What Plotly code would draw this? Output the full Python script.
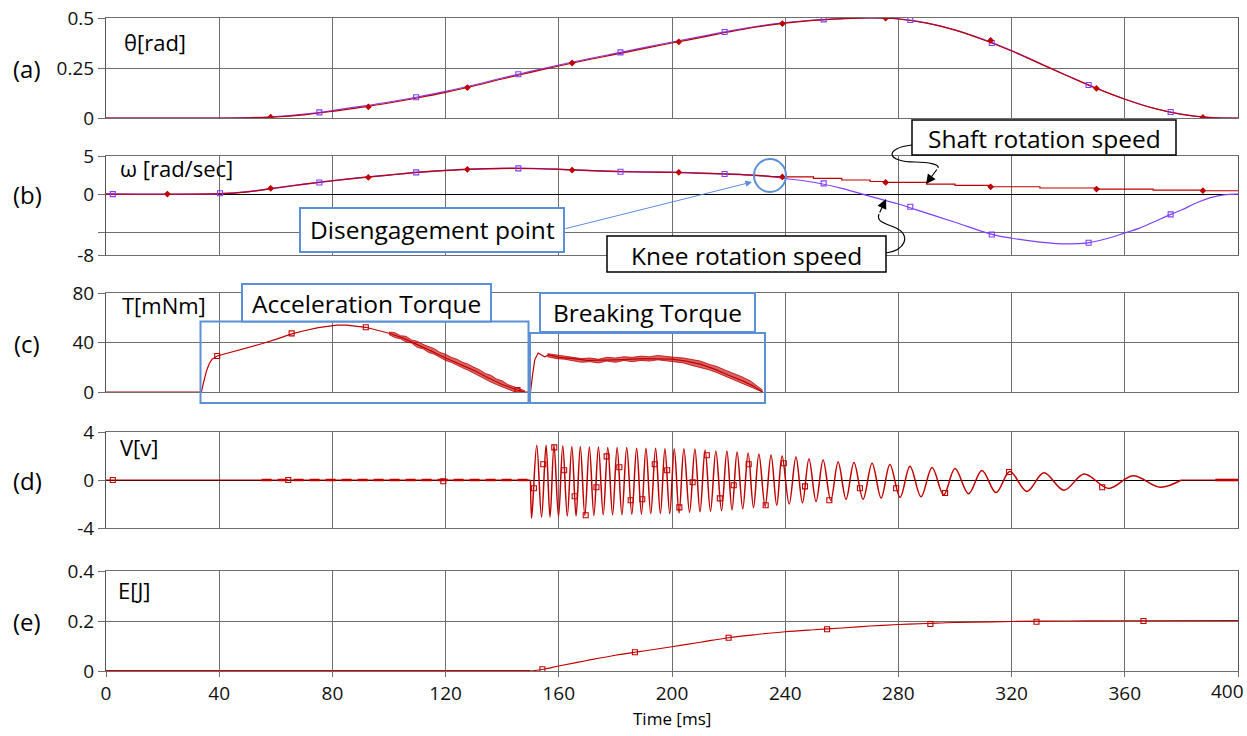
import plotly.graph_objects as go

# ---------------- data ----------------
time_ticks = [0, 40, 80, 120, 160, 200, 240, 280, 320, 360, 400]
time_ticktext = ["0", "40", "80", "120", "160", "200", "240", "280", "320", "360", ""]
last_time_label = "400"

# (a) rotation angle
theta_t = [0, 40, 50, 60, 70, 80, 90, 100, 110, 120, 130, 140, 150, 160, 170, 180, 190, 200, 210, 220,
           230, 240, 250, 260, 270, 280, 290, 300, 310, 320, 330, 340, 350, 360, 370, 380, 390, 400]
theta_shaft = [0, 0, 0.001, 0.005, 0.016, 0.033, 0.053, 0.075, 0.1, 0.128, 0.16, 0.195, 0.228, 0.26, 0.29,
               0.318, 0.347, 0.375, 0.402, 0.43, 0.455, 0.474, 0.488, 0.496, 0.5, 0.495, 0.474, 0.439, 0.391,
               0.335, 0.272, 0.209, 0.148, 0.094, 0.049, 0.018, 0.002, 0]
theta_knee = [0, 0, 0.002, 0.007, 0.019, 0.037, 0.058, 0.08, 0.105, 0.133, 0.165, 0.2, 0.233, 0.265, 0.295,
              0.323, 0.352, 0.38, 0.407, 0.434, 0.458, 0.477, 0.49, 0.497, 0.5, 0.496, 0.476, 0.441, 0.393,
              0.337, 0.274, 0.21, 0.149, 0.095, 0.05, 0.019, 0.003, 0]
theta_mk_red_t = [58.2, 92.7, 127.7, 164.7, 202.4, 239.0, 275.5, 312.6, 350.0, 387.6]
theta_mk_red_v = [0.004, 0.056, 0.152, 0.275, 0.381, 0.472, 0.499, 0.388, 0.148, 0.003]
theta_mk_blue_t = [75.4, 109.6, 145.7, 181.8, 218.6, 253.6, 284.2, 313.0, 347.2, 376.2]
theta_mk_blue_v = [0.028, 0.104, 0.219, 0.328, 0.43, 0.493, 0.49, 0.375, 0.165, 0.03]

# (b) rotation speed
omega_t = [0, 40, 50, 60, 70, 80, 90, 100, 110, 120, 130, 140, 150, 160, 170, 180, 190, 200, 210, 220, 230, 235]
omega_common = [0, 0.05, 0.3, 0.8, 1.3, 1.75, 2.15, 2.5, 2.85, 3.1, 3.28, 3.37, 3.36, 3.25, 3.1, 2.97, 2.9,
                2.85, 2.75, 2.62, 2.45, 2.3]
omega_shaft_t = [235, 240, 250, 260, 270, 275.5, 290, 300, 312.6, 330, 350, 370, 387.6, 400]
omega_shaft_v = [2.3, 2.25, 2.05, 1.85, 1.65, 1.53, 1.3, 1.15, 0.96, 0.8, 0.66, 0.53, 0.44, 0.4]
omega_knee_t = [235, 240, 250, 260, 270, 280, 290, 300, 313, 320, 330, 340, 347, 355, 360, 365, 370, 376,
                380, 385, 390, 395, 400]
omega_knee_v = [2.3, 2.05, 1.55, 0.75, -0.3, -1.3, -2.5, -3.7, -5.3, -5.8, -6.3, -6.55, -6.4, -5.7, -5.1,
                -4.5, -3.7, -2.7, -2.1, -1.2, -0.5, -0.1, 0]
omega_mk_red_t = [21.7, 58.2, 92.7, 127.7, 164.7, 202.4, 239.0, 275.5, 312.6, 350.0, 387.6]
omega_mk_red_v = [0, 0.75, 2.19, 3.24, 3.15, 2.85, 2.25, 1.53, 0.96, 0.66, 0.44]
omega_mk_blue_t = [2.4, 40.3, 75.4, 109.6, 145.7, 181.8, 218.6, 253.6, 284.2, 313.0, 347.2, 376.2]
omega_mk_blue_v = [0, 0.1, 1.53, 2.85, 3.37, 2.93, 2.63, 1.4, -1.67, -5.3, -6.4, -2.67]

# (c) torque
torque_acc_t = [0, 33.7, 34.5, 35.5, 36.5, 37.5, 39.3, 45, 50, 55, 60, 65.6, 70, 75, 81.6, 85, 91.8, 97, 100,
                105, 110, 115, 120, 125, 130, 135, 140, 145, 148]
torque_acc_v = [0, 0, 8, 17, 23, 26.5, 29.1, 32.5, 35.5, 39, 42.5, 47, 49.5, 52, 54, 54, 52.3, 49, 47.5,
                43.5, 38.5, 33, 27.5, 22.5, 17.5, 11.5, 6, 1.8, 0]
noise_acc_t = [100, 102, 104, 106, 108, 110, 112, 114, 116, 118, 120, 122, 124, 126, 128, 130, 132, 134, 136,
               138, 140, 142, 144, 146, 148]
noise_acc_hi = [48.5, 48, 45.5, 45, 42, 41, 38.5, 36.5, 35, 32, 30.5, 28, 26.5, 24, 22.5, 20, 18, 15, 13.5,
                10.5, 9, 6, 4.5, 2.5, 1]
noise_acc_lo = [46.5, 44, 43, 40.5, 39.5, 36, 35, 32, 30.5, 28, 25.5, 24, 21.5, 19.5, 17.5, 15, 13, 10.5,
                8, 6, 4, 2, 0.5, 0, 0]
torque_brk_t = [148, 150, 150.8, 151.5, 152.7, 154, 155, 156.5, 160, 165, 170, 180, 190, 200, 205, 210,
                215, 220, 225, 229, 232]
torque_brk_v = [0, 0, 15, 26, 31.5, 30, 28.5, 30, 28, 27, 25.5, 26, 27, 26.5, 25, 22.5, 18.5, 13.5, 9, 4.5, 0]
noise_brk_t = [156, 159, 162, 165, 168, 171, 174, 177, 180, 183, 186, 189, 192, 195, 198, 201, 204, 207,
               210, 213, 216, 219, 222, 225, 228, 230, 232]
noise_brk_hi = [31, 30, 29.5, 28.5, 27, 27.5, 26.5, 28, 27.5, 28.5, 28, 29, 28.5, 29.5, 28.5, 28, 27.5, 26,
                25, 22.5, 20.5, 17.5, 15, 12, 8.5, 5, 1.5]
noise_brk_lo = [28.5, 27, 26.5, 25.5, 24, 24.5, 23.5, 25, 24, 25.5, 24.5, 25.5, 25, 26, 25, 24, 23.5, 21.5,
                20, 18, 15.5, 12.5, 9.5, 6.5, 3.5, 1.5, 0]
torque_mk_t = [39.3, 65.6, 91.8, 145.4]
torque_mk_v = [29.1, 47.4, 52.3, 1.5]

# (d) generated voltage: peaks and troughs of the oscillation
v_peak_t = [152.2, 155.5, 158.3, 161.4, 164.6, 167.6, 170.8, 174.0, 177.3, 180.6, 184.0, 187.5, 190.8, 194.2,
            197.5, 200.8, 204.2, 208.1, 211.7, 215.5, 219.4, 223.0, 226.9, 230.7, 235.0, 238.9, 243.8, 248.4,
            253.4, 258.7, 264.3, 270.7, 277.0, 284.1, 291.9, 300.0, 309.5, 319.4, 331.4, 345.6, 362.9]
v_peak_v = [2.9, 2.9, 2.9, 2.85, 2.8, 2.8, 2.75, 2.75, 2.7, 2.7, 2.7, 2.65, 2.65, 2.65, 2.6, 2.6, 2.6, 2.58,
            2.5, 2.42, 2.42, 2.33, 2.25, 2.17, 2.08, 2.0, 1.92, 1.75, 1.67, 1.5, 1.45, 1.4, 1.3, 1.15, 1.05,
            0.95, 0.8, 0.7, 0.6, 0.5, 0.35]
v_trough_t = [150.4, 153.9, 156.9, 159.9, 163.0, 166.1, 169.2, 172.4, 175.7, 179.0, 182.3, 185.8, 189.2,
              192.5, 195.9, 199.2, 202.5, 206.2, 209.9, 213.6, 217.5, 221.2, 225.0, 228.8, 232.9, 237.0,
              241.4, 246.1, 250.9, 256.1, 261.5, 267.5, 273.9, 280.6, 288.0, 296.0, 304.8, 314.5, 325.4,
              338.5, 354.3, 372.5]
v_trough_v = [-3.2, -3.1, -3.1, -3.05, -3.0, -3.0, -2.95, -2.95, -2.9, -2.9, -2.9, -2.85, -2.85, -2.8, -2.8,
              -2.8, -2.75, -2.7, -2.65, -2.6, -2.55, -2.5, -2.4, -2.3, -2.2, -2.1, -2.0, -1.9, -1.8, -1.7,
              -1.6, -1.6, -1.5, -1.45, -1.4, -1.25, -1.15, -1.05, -0.95, -0.85, -0.7, -0.6]
v_pre_t = [0, 150.0]
v_post_t = [380.0, 400.0]
v_ripple_t = [[55, 150], [392, 400]]
v_mk_t = [2.4, 64.4, 119.2, 151.2, 154.5, 158.4, 161.9, 165.6, 169.5, 173.3, 176.9, 181.4, 185.4, 189.5,
          193.9, 198.3, 202.6, 207.3, 212.3, 216.9, 221.8, 227.1, 233.1, 239.5, 247.0, 255.6, 266.4, 279.2,
          296.5, 319.1, 352.0]
v_mk_v = [0, 0, -0.1, -0.69, 1.31, 2.72, 0.81, -1.36, -2.94, -0.61, 1.97, 1.06, -1.69, -1.61, 1.31, 0.81,
          -2.28, -0.19, 2.06, -1.53, -0.44, 1.31, -2.11, 1.39, -0.53, -1.69, -0.69, -0.69, -1.08, 0.67, -0.61]

# (e) harvested energy
energy_t = [0, 150, 155, 160, 170, 180, 186.9, 190, 200, 210, 220, 230, 240, 250, 260, 270, 280, 290, 300,
            320, 340, 360, 400]
energy_v = [0, 0, 0.008, 0.02, 0.042, 0.063, 0.075, 0.08, 0.097, 0.115, 0.133, 0.146, 0.157, 0.165, 0.172,
            0.18, 0.186, 0.19, 0.194, 0.198, 0.2, 0.201, 0.202]
energy_mk_t = [154.2, 186.9, 220.0, 254.8, 291.3, 328.8, 366.6]
energy_mk_v = [0.007, 0.075, 0.133, 0.167, 0.188, 0.197, 0.2]

# axis ticks per panel
y_ranges = {1: [0, 0.5], 2: [-8, 5], 3: [0, 80], 4: [-4, 4], 5: [0, 0.4]}
y_tickvals = {1: [0, 0.25, 0.5], 2: [-8, -5, 0, 5], 3: [0, 40, 80], 4: [-4, 0, 4], 5: [0, 0.2, 0.4]}
y_ticktext = {1: ["0", "0.25", "0.5"], 2: ["-8", "", "0", "5"], 3: ["0", "40", "80"], 4: ["-4", "0", "4"],
              5: ["0", "0.2", "0.4"]}
panel_tags = ["(a)", "(b)", "(c)", "(d)", "(e)"]
panel_units = ["θ[rad]", "ω [rad/sec]", "T[mNm]", "V[v]", "E[J]"]

# ---------------- layout helpers ----------------
W, H = 1247, 736
L, R, T, B = 106, 9, 18, 65
PW, PH = W - L - R, H - T - B
FONT = "Open Sans"
RED = "#C00000"
BLUE = "#7F3FFF"
LBLUE = "#5B8FD6"
GRID = "#6e6e6e"


def px(x):
    return (x - L) / PW


def py(y):
    return (H - B - y) / PH


panel_px = {1: (118, 18), 2: (255, 156), 3: (392, 293), 4: (528, 432), 5: (671, 571)}

fig = go.Figure()


def ax(i):
    return ("x" if i == 1 else f"x{i}"), ("y" if i == 1 else f"y{i}")


def line(i, xs, ys, color, width=1.2, shape="spline", dash=None, **kw):
    xa, ya = ax(i)
    fig.add_trace(go.Scatter(x=xs, y=ys, xaxis=xa, yaxis=ya, mode="lines",
                             line=dict(color=color, width=width, shape=shape, dash=dash),
                             hoverinfo="skip", **kw))


def marks(i, xs, ys, color, symbol, size=6, filled=False):
    xa, ya = ax(i)
    fig.add_trace(go.Scatter(x=xs, y=ys, xaxis=xa, yaxis=ya, mode="markers",
                             marker=dict(symbol=symbol, size=size, color=color if filled else "rgba(0,0,0,0)",
                                         line=dict(color=color, width=1.1)), hoverinfo="skip"))


# (a)
line(1, theta_t, theta_knee, BLUE)
line(1, theta_t, theta_shaft, RED)
marks(1, theta_mk_blue_t, theta_mk_blue_v, BLUE, "square", 5)
marks(1, theta_mk_red_t, theta_mk_red_v, RED, "diamond", 4, filled=True)

# (b)
line(2, omega_t, omega_common, BLUE, width=1.5)
line(2, omega_knee_t, omega_knee_v, BLUE)
line(2, omega_t, omega_common, RED)
line(2, omega_shaft_t, omega_shaft_v, RED, shape="hv")
marks(2, omega_mk_blue_t, omega_mk_blue_v, BLUE, "square", 5)
marks(2, omega_mk_red_t, omega_mk_red_v, RED, "diamond", 4, filled=True)

# (c)
line(3, torque_acc_t, torque_acc_v, RED, shape="linear")
line(3, torque_brk_t, torque_brk_v, RED, shape="linear")
line(3, noise_acc_t, noise_acc_lo, RED, width=0.8, shape="linear")
line(3, noise_acc_t, noise_acc_hi, RED, width=0.8, shape="linear", fill="tonexty",
     fillcolor="rgba(192,0,0,0.6)")
line(3, noise_brk_t, noise_brk_lo, RED, width=0.8, shape="linear")
line(3, noise_brk_t, noise_brk_hi, RED, width=0.8, shape="linear", fill="tonexty",
     fillcolor="rgba(192,0,0,0.6)")
marks(3, torque_mk_t, torque_mk_v, RED, "square", 5)

# (d)
osc = sorted(list(zip(v_peak_t, v_peak_v)) + list(zip(v_trough_t, v_trough_v)))
v_t = [v_pre_t[1]] + [p[0] for p in osc] + [v_post_t[0]]
v_v = [0] + [p[1] for p in osc] + [0]
line(4, v_pre_t, [0, 0], RED, width=1.1, shape="linear")
line(4, v_t, v_v, RED, width=1.5)
line(4, v_post_t, [0, 0], RED, width=1.1, shape="linear")
for seg in v_ripple_t:
    line(4, seg, [0, 0], RED, width=2.6, shape="linear", dash="10px,6px" if seg[0] < 100 else None)
marks(4, v_mk_t, v_mk_v, RED, "square", 5)

# (e)
line(5, energy_t[:2], energy_v[:2], RED, width=2.2, shape="linear")
line(5, energy_t[1:], energy_v[1:], RED, width=1.2)
marks(5, energy_mk_t, energy_mk_v, RED, "square", 5)

# axes
layout = dict(width=W, height=H, margin=dict(l=L, r=R, t=T, b=B, autoexpand=False), paper_bgcolor="white",
              plot_bgcolor="white", showlegend=False)
for i in range(1, 6):
    xa, ya = ax(i)
    xk = "xaxis" if i == 1 else f"xaxis{i}"
    yk = "yaxis" if i == 1 else f"yaxis{i}"
    bot, top = panel_px[i]
    layout[xk] = dict(domain=[0, 1], range=[0, 400], anchor=ya, tickvals=time_ticks, ticktext=time_ticktext,
                      automargin=False,
                      showticklabels=(i == 5), ticks="outside" if i == 5 else "", ticklen=5, tickcolor=GRID,
                      showgrid=True, gridcolor=GRID, gridwidth=1, zeroline=False,
                      showline=True, linecolor=GRID, linewidth=1, mirror=True, ticklabeloverflow="allow",
                      tickfont=dict(family=FONT, size=19, color="#111"))
    layout[yk] = dict(domain=[py(bot), py(top)], range=y_ranges[i], anchor=xa, tickvals=y_tickvals[i],
                      ticktext=y_ticktext[i], showgrid=True, gridcolor=GRID, gridwidth=1, automargin=False,
                      zeroline=(i in (2, 4)), zerolinecolor="#000", zerolinewidth=1,
                      showline=True, linecolor="#555", linewidth=1, mirror=True,
                      ticks="outside", ticklen=7, tickcolor=GRID, ticklabeloverflow="allow",
                      tickfont=dict(family=FONT, size=19, color="#111"))

ann = []
shapes = []


def text(xp, yp, s, size, xanchor="left", color="#000"):
    ann.append(dict(x=px(xp), y=py(yp), xref="paper", yref="paper", text=s, showarrow=False,
                    xanchor=xanchor, yanchor="middle", font=dict(family=FONT, size=size, color=color)))


def rect(x0, y0, x1, y1, color, fill="white", width=2):
    shapes.append(dict(type="rect", xref="paper", yref="paper", x0=px(x0), x1=px(x1), y0=py(y1), y1=py(y0),
                       line=dict(color=color, width=width), fillcolor=fill, layer="above"))


def path(cmds, color, width=1.2):
    s = ""
    for c, pts in cmds:
        s += c + " " + " ".join(f"{px(a):.5f},{py(b):.5f}" for a, b in pts) + " "
    shapes.append(dict(type="path", xref="paper", yref="paper", path=s.strip(),
                       line=dict(color=color, width=width), layer="above"))


def arrow(x0, y0, x1, y1, color, size=1.4, width=1.2):
    ann.append(dict(x=px(x1), y=py(y1), xref="paper", yref="paper", ax=x0 - x1, ay=y0 - y1,
                    axref="pixel", ayref="pixel", text="", showarrow=True, arrowhead=2, arrowsize=size,
                    arrowwidth=width, arrowcolor=color, standoff=0))


# panel tags and unit labels
tag_y = [68, 194, 343, 480, 621]
unit_pos = [(122, 42), (118, 168), (120, 305), (118, 447), (116, 590)]
for i in range(5):
    text(27, tag_y[i], panel_tags[i], 24, "center")
    text(unit_pos[i][0], unit_pos[i][1], panel_units[i], 22)
text(672, 718, "Time [ms]", 17, "center")
text(1246, 691, last_time_label, 19, "right", "#111")

# (b) call-outs
shapes.append(dict(type="circle", xref="paper", yref="paper", x0=px(754), x1=px(786), y0=py(192), y1=py(159),
                   line=dict(color=LBLUE, width=2), layer="above"))
arrow(564, 229, 752, 182, LBLUE, size=1.3, width=1)
rect(300, 208, 564, 252, LBLUE)
text(432, 230, "Disengagement point", 24.5, "center")
path([("M", [(912, 145)]), ("C", [(884, 148), (886, 162), (915, 162)]), ("C", [(930, 162), (940, 165), (938, 168)])],
     "#000")
arrow(938, 168, 926, 184, "#000", size=1.6, width=1.2)
rect(912, 120, 1176, 155, "#000", width=1.5)
text(1044, 138, "Shaft rotation speed", 24.5, "center")
path([("M", [(886, 253)]), ("C", [(906, 250), (911, 235), (896, 228)]), ("C", [(885, 223), (876, 222), (879, 214)])],
     "#000")
arrow(879, 214, 886, 199, "#000", size=1.6, width=1.2)
rect(607, 236, 886, 272, "#000", width=1.5)
text(746, 255, "Knee rotation speed", 24.5, "center")

# (c) call-outs
rect(200.5, 321.5, 528.5, 403, LBLUE, fill="rgba(0,0,0,0)")
rect(530, 333, 765, 403, LBLUE, fill="rgba(0,0,0,0)")
rect(242, 284, 491, 321.5, LBLUE)
text(366.5, 303, "Acceleration Torque", 24.5, "center")
rect(540, 293, 755, 332, LBLUE)
text(647.5, 312.5, "Breaking Torque", 24.5, "center")

layout["annotations"] = ann
layout["shapes"] = shapes
fig.update_layout(**layout)
fig.write_html("out.html", config={"displayModeBar": False},
               post_script="document.body.style.margin='0';document.body.style.overflow='hidden';")
